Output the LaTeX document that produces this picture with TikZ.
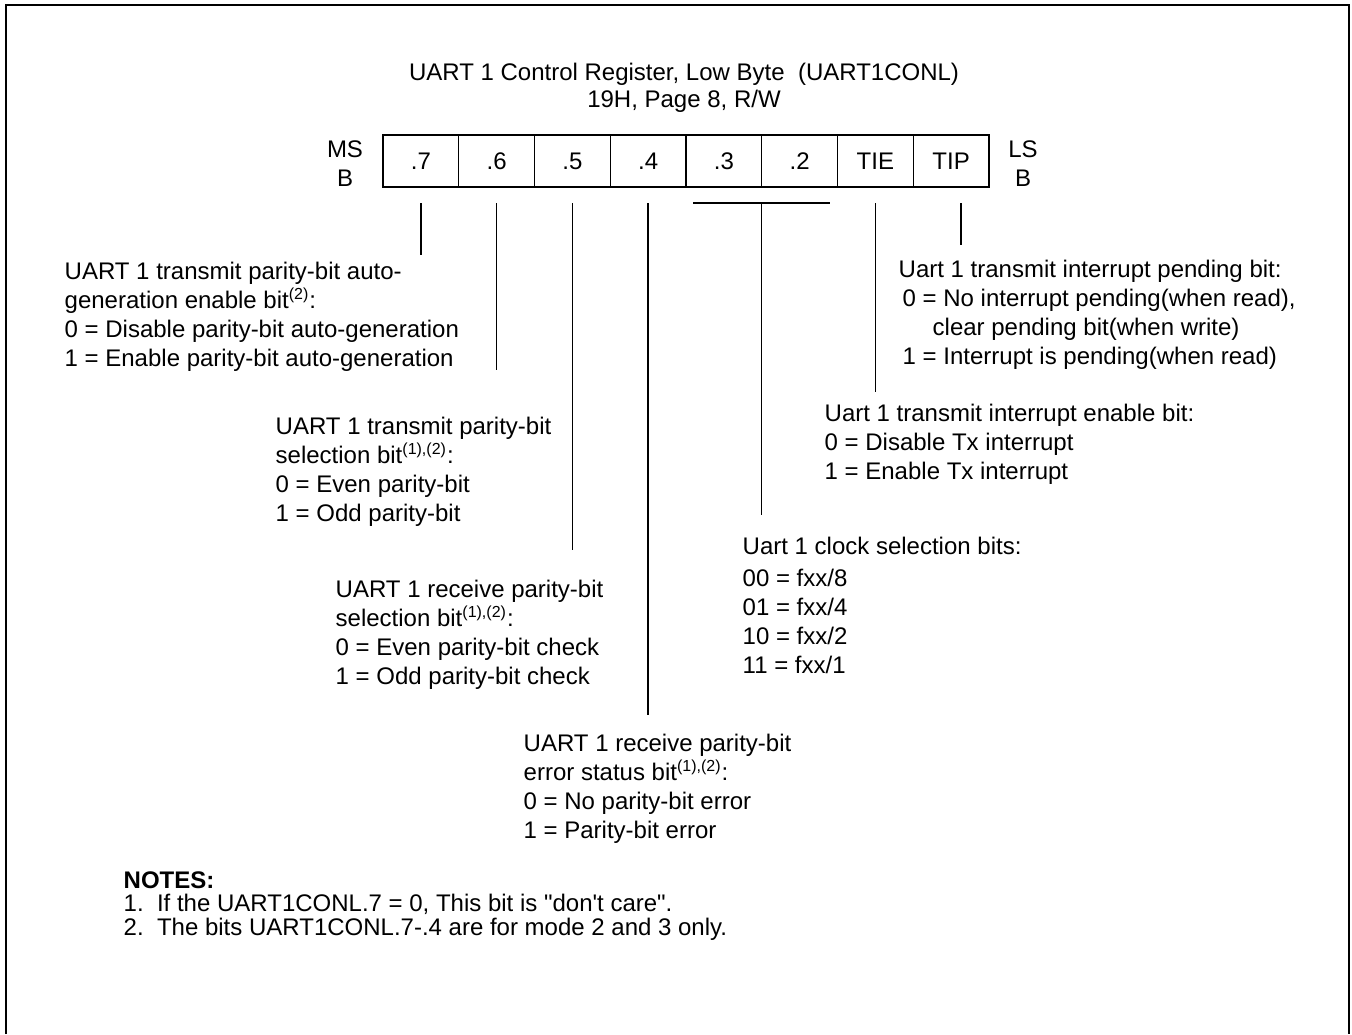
\documentclass[tikz,border=0pt]{standalone}
\usepackage{fontspec}
\setmainfont{Liberation Sans}
\usetikzlibrary{calc, positioning}

\begin{document}
\begin{tikzpicture}[
    x=0.5pt, y=-0.5pt,
    line width=0.7pt,
    bitcell/.style={draw, outer sep=0pt, minimum width=37.875pt, minimum height=26pt,
                    inner sep=0pt, font=\fontsize{12}{14}\selectfont},
    side/.style={align=center, inner sep=0pt, font=\fontsize{12}{14.5}\selectfont},
    heading/.style={align=center, inner sep=0pt, font=\fontsize{12}{13.5}\selectfont},
    desc/.style={anchor=north west, align=left, inner sep=0pt,
                 font=\fontsize{12}{14.5}\selectfont},
    notes/.style={anchor=north west, align=left, inner sep=0pt,
                  font=\fontsize{12}{11.75}\selectfont},
]
\useasboundingbox (0,0) rectangle (1352,1034);

% ── Frame ────────────────────────────────────────────────────
\draw[line width=1.2pt] (6,1034) -- (6,5) -- (1349,5) -- (1349,1034);

% ── Register ─────────────────────────────────────────────────
\node[heading] (title) at (684,88) {UART 1 Control Register, Low Byte\ \ (UART1CONL)\\19H, Page 8, R/W};

\foreach \lbl [count=\i] in {.7,.6,.5,.4,.3,.2,TIE,TIP}
    \node[bitcell] (b\i) at ({383+75.75*\i-37.875},161) {\lbl};

\node[side] (msb) at (345,164) {MS\\B};
\node[side] (lsb) at (1023,164) {LS\\B};

% ── Bit descriptions ─────────────────────────────────────────
\node[desc] (d7) at (64,261) {UART 1 transmit parity-bit auto-\\
    generation enable bit\textsuperscript{(2)}:\\
    0 = Disable parity-bit auto-generation\\
    1 = Enable parity-bit auto-generation};

\node[desc] (d6) at (275,416) {UART 1 transmit parity-bit\\
    selection bit\textsuperscript{(1),(2)}:\\
    0 = Even parity-bit\\
    1 = Odd parity-bit};

\node[desc] (d5) at (335,579) {UART 1 receive parity-bit\\
    selection bit\textsuperscript{(1),(2)}:\\
    0 = Even parity-bit check\\
    1 = Odd parity-bit check};

\node[desc] (d4) at (523,733) {UART 1 receive parity-bit\\
    error status bit\textsuperscript{(1),(2)}:\\
    0 = No parity-bit error\\
    1 = Parity-bit error};

\node[desc] (d32) at (742,536) {Uart 1 clock selection bits:\\[1.5pt]
    00 = fxx/8\\
    01 = fxx/4\\
    10 = fxx/2\\
    11 = fxx/1};

\node[desc] (dtie) at (824,403) {Uart 1 transmit interrupt enable bit:\\
    0 = Disable Tx interrupt\\
    1 = Enable Tx interrupt};

\node[desc] (dtip) at (898,259) {Uart 1 transmit interrupt pending bit:\\
    \hspace*{2pt}0 = No interrupt pending(when read),\\
    \hspace*{17pt}clear pending bit(when write)\\
    \hspace*{2pt}1 = Interrupt is pending(when read)};

% ── Leader lines ─────────────────────────────────────────────
\coordinate (e1) at (0,255);
\coordinate (e2) at (0,370);
\coordinate (e3) at (0,550);
\coordinate (e4) at (0,715);
\coordinate (e5) at (0,515);
\coordinate (e7) at (0,392);
\coordinate (e8) at (0,245);

\draw ([yshift=-8pt]b1.south) -- (b1.south |- e1);
\draw ([yshift=-8pt]b2.south) -- (b2.south |- e2);
\draw ([yshift=-8pt]b3.south) -- (b3.south |- e3);
\draw ([yshift=-8pt]b4.south) -- (b4.south |- e4);
\draw ([xshift=3.5pt,yshift=-8pt]b5.south west) -- ([xshift=-4pt,yshift=-8pt]b6.south east);
\draw ([yshift=-8pt]b5.south east) -- (b5.south east |- e5);
\draw ([yshift=-8pt]b7.south) -- (b7.south |- e7);
\draw ([xshift=5pt,yshift=-8pt]b8.south) -- ([xshift=5pt]b8.south |- e8);

% ── Notes ────────────────────────────────────────────────────
\node[notes] (notes) at (123,871) {\textbf{NOTES:}\\
    1.\ \ If the UART1CONL.7 = 0, This bit is \textquotedbl don\textquotesingle t care\textquotedbl.\\
    2.\ \ The bits UART1CONL.7-.4 are for mode 2 and 3 only.};

\end{tikzpicture}
\end{document}
